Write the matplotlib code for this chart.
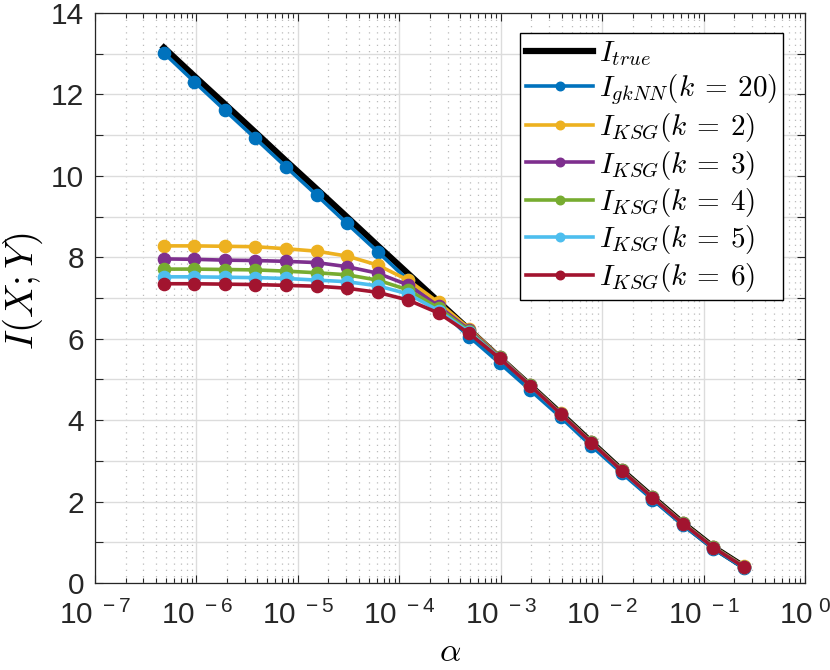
import matplotlib
matplotlib.use("Agg")
import matplotlib.pyplot as plt
from matplotlib.ticker import FixedLocator, FuncFormatter, NullFormatter
import numpy as np

plt.rcParams['font.family'] = ['Liberation Sans', 'DejaVu Sans']
plt.rcParams['mathtext.fontset'] = 'cm'

alpha = [4.77e-7, 9.54e-7, 1.91e-6, 3.81e-6, 7.63e-6, 1.53e-5, 3.05e-5, 6.10e-5,
         1.22e-4, 2.44e-4, 4.88e-4, 9.77e-4, 1.95e-3, 3.91e-3, 7.81e-3, 1.56e-2,
         3.13e-2, 6.25e-2, 0.125, 0.25]

I_true = [13.15, 12.45, 11.76, 11.07, 10.37, 9.68, 8.99, 8.29, 7.60, 6.91,
          6.22, 5.53, 4.85, 4.16, 3.46, 2.77, 2.11, 1.47, 0.88, 0.40]
I_gknn = [13.02, 12.31, 11.61, 10.92, 10.22, 9.53, 8.83, 8.14, 7.44, 6.75,
          6.05, 5.40, 4.74, 4.07, 3.37, 2.70, 2.05, 1.42, 0.84, 0.36]
I_ksg2 = [8.28, 8.28, 8.27, 8.26, 8.21, 8.15, 8.03, 7.81, 7.44, 6.89,
          6.25, 5.56, 4.87, 4.17, 3.47, 2.78, 2.12, 1.48, 0.89, 0.41]
I_ksg3 = [7.96, 7.95, 7.93, 7.92, 7.90, 7.87, 7.77, 7.61, 7.32, 6.80,
          6.22, 5.55, 4.86, 4.16, 3.46, 2.77, 2.11, 1.47, 0.88, 0.40]
I_ksg4 = [7.71, 7.71, 7.70, 7.69, 7.66, 7.62, 7.57, 7.44, 7.20, 6.75,
          6.19, 5.54, 4.86, 4.16, 3.46, 2.77, 2.11, 1.47, 0.88, 0.40]
I_ksg5 = [7.52, 7.52, 7.51, 7.50, 7.48, 7.44, 7.40, 7.30, 7.10, 6.69,
          6.16, 5.53, 4.85, 4.15, 3.45, 2.76, 2.10, 1.46, 0.87, 0.39]
I_ksg6 = [7.35, 7.35, 7.34, 7.33, 7.31, 7.29, 7.24, 7.14, 6.95, 6.63,
          6.13, 5.52, 4.85, 4.15, 3.45, 2.76, 2.10, 1.46, 0.87, 0.39]

ksg_series = [I_ksg2, I_ksg3, I_ksg4, I_ksg5, I_ksg6]
ksg_k = [2, 3, 4, 5, 6]
ksg_colors = ['#EDB120', '#7E2F8E', '#77AC30', '#4DBEEE', '#A2142F']

fig = plt.figure(figsize=(8.3, 6.7), dpi=100)
ax = fig.add_axes([95/830, 87/670, 710/830, 570/670])

ax.plot(alpha, I_true, color='black', lw=4.5, label=r'$I_{true}$', zorder=3)
ax.plot(alpha, I_gknn, color='#0072BD', lw=2.6, marker='o', ms=8.8,
        label=r'$I_{gkNN}(k\:=\:20)$', zorder=4)
for vals, k, c in zip(ksg_series, ksg_k, ksg_colors):
    ax.plot(alpha, vals, color=c, lw=2.6, marker='o', ms=8.8,
            label=r'$I_{KSG}(k\:=\:%d)$' % k, zorder=4)

ax.set_xscale('log')
ax.set_xlim(1e-7, 1)
ax.set_ylim(0, 14)

ax.xaxis.set_major_locator(FixedLocator([10.0**e for e in range(-7, 1)]))
minor = [m * 10.0**e for e in range(-7, 0) for m in range(2, 10)]
ax.xaxis.set_minor_locator(FixedLocator(minor))
ax.xaxis.set_major_formatter(FuncFormatter(
    lambda v, p: r'$\mathregular{10^{\ %d}}$' % int(round(np.log10(v)))))
ax.xaxis.set_minor_formatter(NullFormatter())

ax.yaxis.set_major_locator(FixedLocator(list(range(0, 15, 2))))
ax.yaxis.set_minor_locator(FixedLocator(list(range(1, 14, 2))))

ax.tick_params(which='both', direction='in', top=True, right=True,
               colors='#262626', labelsize=21.5)
ax.tick_params(which='major', length=6, width=0.8)
ax.tick_params(which='minor', length=3.5, width=0.8)
ax.tick_params(axis='y', which='minor', length=6)
ax.tick_params(axis='x', pad=13)
ax.tick_params(axis='y', pad=8)

ax.grid(True, which='major', color='#DCDCDC', lw=1.0, ls='-')
ax.grid(True, axis='y', which='minor', color='#DCDCDC', lw=1.0, ls='-')
ax.grid(True, axis='x', which='minor', color='#BBBBBB', lw=0.9, ls=(0, (1, 4)))
ax.set_axisbelow(True)

for s in ax.spines.values():
    s.set_color('#262626')
    s.set_linewidth(0.9)

ax.set_xlabel(r'$\alpha$', fontsize=24, labelpad=5)
ax.set_ylabel(r'$I(X;Y)$', fontsize=28, labelpad=4)
ax.yaxis.label.set_y(0.512)

leg = ax.legend(loc='upper right', bbox_to_anchor=(0.969, 0.965),
                borderaxespad=0, fontsize=21, frameon=True, fancybox=False,
                edgecolor='black', framealpha=1, handlelength=2.3,
                labelspacing=0.15, borderpad=0.2, handletextpad=0.2,
                markerscale=0.7)
leg.get_frame().set_linewidth(1.0)

fig.savefig('out.png', dpi=100)
